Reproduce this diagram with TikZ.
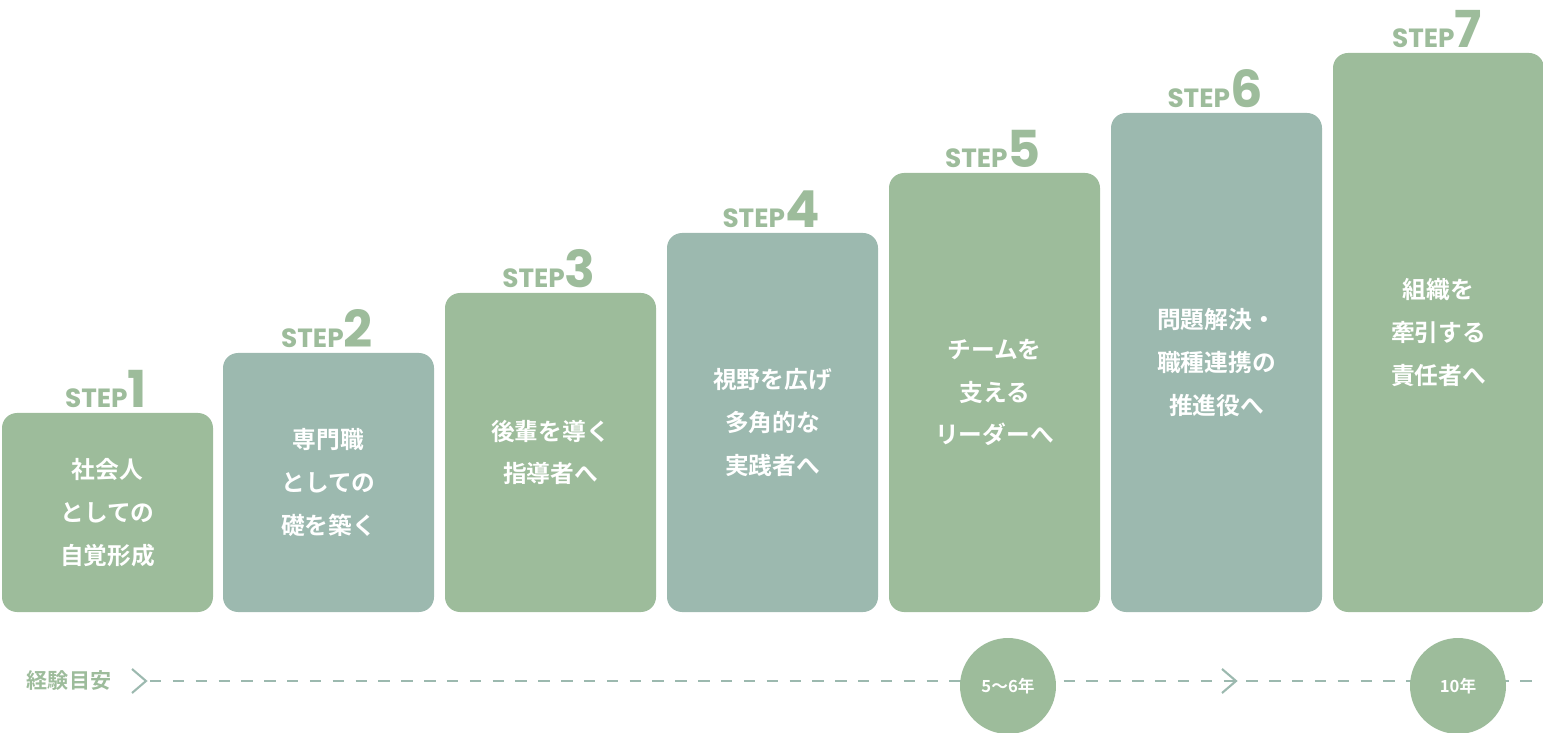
\documentclass[tikz,border=0pt]{standalone}
\usepackage{fontspec}
\newfontfamily\jpfont{Noto Sans CJK JP}[BoldFont={* Bold}]
\newfontfamily\stepfont{Poppins}
\usetikzlibrary{positioning}
\definecolor{stepgreen}{HTML}{9DBC9B}
\definecolor{stepteal}{HTML}{9CB9AF}
\begin{document}
\begin{tikzpicture}[x=0.02cm, y=-0.02cm,
    boxtext/.style={text=white, font=\jpfont\bfseries\fontsize{13.5pt}{24.4pt}\selectfont, align=center},
    steplabel/.style={text=stepgreen, font=\stepfont\bfseries, anchor=south, inner sep=0pt},
    yearmark/.style={circle, fill=stepgreen, minimum size=1.92cm, inner sep=0pt,
      text=white, font=\jpfont\bfseries\fontsize{9.5pt}{11pt}\selectfont},
    chevron/.style={stepteal, line width=1.2pt}]

    \useasboundingbox (0,0) rectangle (1543,733);

    % Step boxes
    \foreach \i/\xl/\yt/\col/\txt in {
      1/2/413/stepgreen/{社会人\\としての\\自覚形成},
      2/223/353/stepteal/{専門職\\としての\\礎を築く},
      3/445/293/stepgreen/{後輩を導く\\指導者へ},
      4/667/233/stepteal/{視野を広げ\\多角的な\\実践者へ},
      5/889/173/stepgreen/{チームを\\支える\\リーダーへ},
      6/1111/113/stepteal/{問題解決・\\職種連携の\\推進役へ},
      7/1333/53/stepgreen/{組織を\\牽引する\\責任者へ}}{
      \fill[\col, rounded corners=0.3cm] (\xl,\yt) rectangle (\xl+211,612);
      \node[boxtext] (box\i) at (\xl+105.5,{(\yt+612)/2}) {\txt};
      \node[steplabel] (step\i) at (\xl+104,\yt-5)
        {\fontsize{15pt}{16pt}\selectfont STEP\fontsize{29pt}{30pt}\selectfont\i};
    }

    % Experience axis
    \node[text=stepgreen, font=\jpfont\bfseries\fontsize{12pt}{14pt}\selectfont]
      (axislabel) at (69,681) {経験目安};
    \coordinate (axisstart) at (150,681);
    \coordinate (axisend) at (1543,681);
    \draw[stepteal, line width=1.2pt, dash pattern=on 6.5pt off 6.5pt] (axisstart) -- (axisend);
    \draw[chevron] (132,669) -- (146,681) -- (132,693);
    \draw[chevron] (1222,669) -- (1236,681) -- (1222,693);

    % Year marks
    \node[yearmark] (year1) at (1008,686) {5〜6年};
    \node[yearmark] (year2) at (1458,686) {10年};
\end{tikzpicture}
\end{document}
